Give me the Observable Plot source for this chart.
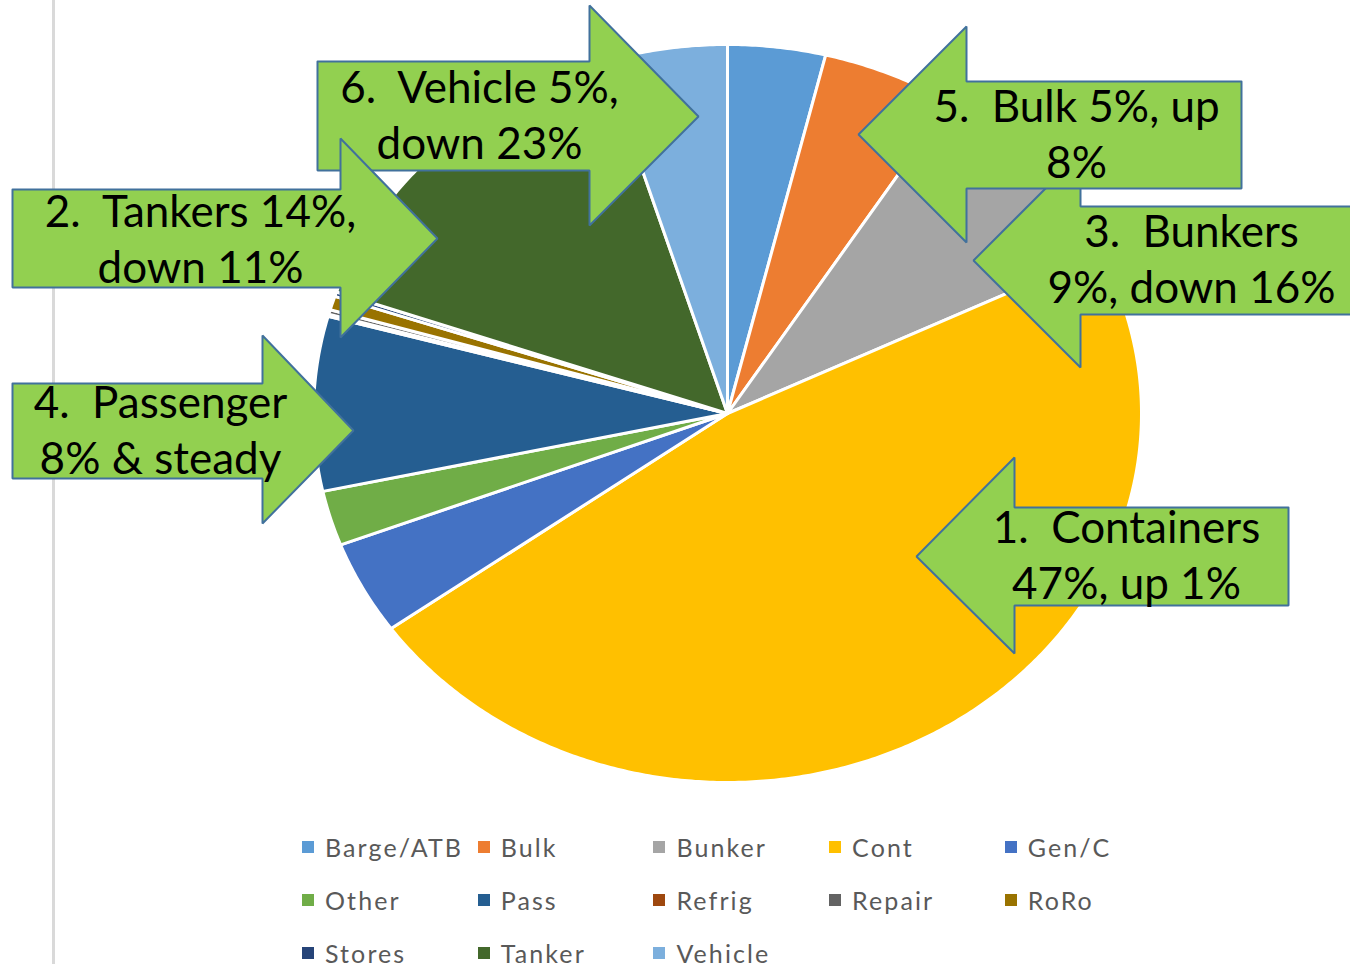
<!DOCTYPE html>
<html>
<head>
<meta charset="utf-8">
<script src="https://cdn.jsdelivr.net/npm/d3@7"></script>
<script src="https://cdn.jsdelivr.net/npm/@observablehq/plot@0.6"></script>
<style>
  html, body { margin: 0; padding: 0; background: #fff; }
  #wrap { width: 1350px; position: relative; }
  #legend { position: relative; width: 1350px; height: 144px; overflow: hidden; }
  #legend .bar { position: absolute; left: 52px; top: 0; width: 3px; height: 100%; background: #d9d9d9; }
  #legend .item { position: absolute; display: flex; align-items: center; height: 30px;
    font-family: Lato, "Open Sans", sans-serif; font-size: 25px; letter-spacing: 2.1px; color: #595959; white-space: nowrap; }
  #legend .sw { width: 12px; height: 12px; margin-right: 11px; flex: none; }
</style>
</head>
<body>
<div id="wrap"></div>
<script>
// ---- data ----
const categories = ["Barge/ATB", "Bulk", "Bunker", "Cont", "Gen/C", "Other", "Pass", "Refrig", "Repair", "RoRo", "Stores", "Tanker", "Vehicle"];
const shares = [3.8, 5.2, 8.8, 47.1, 4.1, 2.4, 7.6, 0.1, 0.2, 0.6, 0.2, 14.8, 4.8];
const colors = ["#5B9BD5", "#ED7D31", "#A5A5A5", "#FFC000", "#4472C4", "#70AD47", "#255E91", "#9E480E", "#636363", "#997300", "#264478", "#43682B", "#7CAFDD"];
const calloutLabels = [
  "6.\u00a0\u00a0Vehicle 5%,\ndown 23%",
  "2.\u00a0\u00a0Tankers 14%,\ndown 11%",
  "4.\u00a0\u00a0Passenger\n8% & steady",
  "3.\u00a0\u00a0Bunkers\n9%, down 16%",
  "5.\u00a0\u00a0Bulk 5%, up\n8%",
  "1.\u00a0\u00a0Containers\n47%, up 1%"
];

// ---- layout ----
const W = 1350, H = 820;
const pieLayout = {cx: 727, cy: 413, rx: 414, ry: 369};
// callout arrow shapes (annotation layout): outer edge of body, body top/bottom, head base x, head top/bottom, tip, text centre
const calloutLayout = [
  {outer: 317,  y0: 61,  y1: 170, hx: 589,  hy0: 5,   hy1: 225, tx: 698, ty: 116, lx: 479,  ly: 113},
  {outer: 12,   y0: 189, y1: 287, hx: 340,  hy0: 138, hy1: 337, tx: 437, ty: 238, lx: 200,  ly: 237},
  {outer: 12,   y0: 383, y1: 478, hx: 262,  hy0: 335, hy1: 523, tx: 353, ty: 430, lx: 160,  ly: 428},
  {outer: 1353, y0: 206, y1: 314, hx: 1080, hy0: 153, hy1: 367, tx: 973, ty: 260, lx: 1191, ly: 257},
  {outer: 1241, y0: 81,  y1: 188, hx: 966,  hy0: 26,  hy1: 242, tx: 858, ty: 134, lx: 1076, ly: 132},
  {outer: 1288, y0: 507, y1: 605, hx: 1014, hy0: 457, hy1: 653, tx: 916, ty: 556, lx: 1126, ly: 553}
];

// ---- build pie polygons from the values ----
const pieData = categories.map((name, i) => ({name, value: shares[i]}));
const arcs = d3.pie().value(d => d.value).sort(null).startAngle(0).endAngle(2 * Math.PI)(pieData);
const pieRows = [];
arcs.forEach(a => {
  const name = a.data.name;
  const {cx, cy, rx, ry} = pieLayout;
  pieRows.push({name, x: cx, y: cy});
  const steps = Math.max(2, Math.ceil((a.endAngle - a.startAngle) / (Math.PI / 360)));
  for (let k = 0; k <= steps; k++) {
    const t = a.startAngle + (a.endAngle - a.startAngle) * k / steps;
    pieRows.push({name, x: cx + rx * Math.sin(t), y: cy - ry * Math.cos(t)});
  }
  pieRows.push({name, x: cx, y: cy});
});

// ---- callout polygons ----
const calloutRows = [];
calloutLayout.forEach((c, i) => {
  const pts = [[c.outer, c.y0], [c.hx, c.y0], [c.hx, c.hy0], [c.tx, c.ty], [c.hx, c.hy1], [c.hx, c.y1], [c.outer, c.y1], [c.outer, c.y0]];
  pts.forEach(([x, y]) => calloutRows.push({id: i, x, y}));
});
const calloutText = calloutLayout.map((c, i) => ({x: c.lx, y: c.ly, label: calloutLabels[i]}));

const chart = Plot.plot({
  width: W, height: H, margin: 0,
  x: {domain: [0, W], range: [0, W], axis: null},
  y: {domain: [0, H], range: [0, H], axis: null},
  color: {domain: categories, range: colors},
  style: {background: "white"},
  marks: [
    Plot.ruleX([53], {stroke: "#d9d9d9", strokeWidth: 3}),
    Plot.line(pieRows, {x: "x", y: "y", z: "name", fill: "name", stroke: "white", strokeWidth: 3, strokeLinejoin: "round", curve: "linear"}),
    Plot.line(calloutRows, {x: "x", y: "y", z: "id", fill: "#92D050", stroke: "#41719C", strokeWidth: 2, strokeLinejoin: "miter", curve: "linear"}),
    Plot.text(calloutText, {x: "x", y: "y", text: "label", fontSize: 44, fontFamily: "Lato, 'Open Sans', sans-serif", lineHeight: 1.27, fill: "black"})
  ]
});
document.getElementById("wrap").appendChild(chart);

// ---- legend ----
const legend = document.createElement("div");
legend.id = "legend";
legend.innerHTML = '<div class="bar"></div>';
categories.forEach((name, i) => {
  const col = i % 5, row = Math.floor(i / 5);
  const item = document.createElement("div");
  item.className = "item";
  item.style.left = (302 + col * 175.7) + "px";
  item.style.top = (12 + row * 53) + "px";
  const sw = document.createElement("span");
  sw.className = "sw";
  sw.style.background = colors[i];
  const tx = document.createElement("span");
  tx.textContent = name;
  item.appendChild(sw);
  item.appendChild(tx);
  legend.appendChild(item);
});
document.getElementById("wrap").appendChild(legend);
</script>
</body>
</html>
